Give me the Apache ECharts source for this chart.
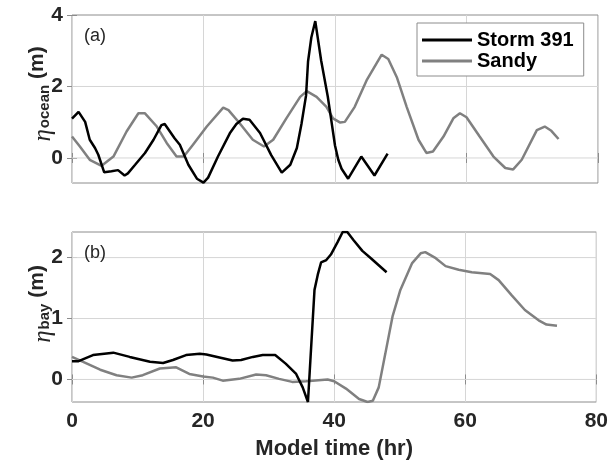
<!DOCTYPE html>
<html>
<head>
<meta charset="utf-8">
<script src="https://cdn.jsdelivr.net/npm/echarts@6/dist/echarts.min.js"></script>
<style>
  html, body { margin: 0; padding: 0; background: #fff; }
  #chart { width: 611px; height: 466px; }
</style>
</head>
<body>
<div id="chart"></div>
<script>
// Storm 391 ocean water level, model hour vs metres
const storm391OceanHours = [0, 1, 2, 2.7, 3.5, 4, 4.9, 6, 7, 8, 8.5, 9.6, 11.1, 12.4, 13.6, 14.1, 15.6, 16.4, 17.7, 19, 20, 20.7, 22.2, 24, 25, 26, 27, 28.6, 30.3, 31.9, 33.2, 34.2, 34.9, 35.6, 35.9, 36.4, 37, 37.9, 38.9, 39.4, 40, 40.5, 41, 42, 44, 46, 48];
const storm391Ocean      = [1.10, 1.29, 1.01, 0.51, 0.28, 0.09, -0.40, -0.37, -0.34, -0.49, -0.43, -0.19, 0.14, 0.51, 0.92, 0.95, 0.55, 0.37, -0.19, -0.58, -0.69, -0.55, 0.04, 0.69, 0.95, 1.10, 1.07, 0.70, 0.08, -0.41, -0.19, 0.28, 0.95, 1.75, 2.70, 3.37, 3.83, 2.72, 1.72, 1.10, 0.35, -0.05, -0.30, -0.58, 0.04, -0.49, 0.12];

// Sandy ocean water level
const sandyOceanHours = [0, 1.2, 2.7, 4.5, 6.3, 8.3, 10.1, 11.1, 12.9, 14.4, 15.9, 17, 18.4, 20.5, 23, 23.8, 25.5, 27.5, 29.2, 30.6, 32.6, 34.7, 35.7, 37.2, 38.7, 39.7, 40.8, 41.5, 43, 44.8, 47.1, 48.1, 49.4, 50.9, 52.7, 53.9, 54.9, 56.5, 58, 59, 60, 62, 64.1, 65.9, 67.1, 68.4, 70.7, 71.9, 72.9, 74];
const sandyOcean      = [0.60, 0.32, -0.05, -0.22, 0.04, 0.74, 1.25, 1.25, 0.88, 0.42, 0.04, 0.04, 0.37, 0.88, 1.41, 1.34, 0.97, 0.51, 0.32, 0.51, 1.11, 1.71, 1.87, 1.71, 1.43, 1.11, 0.99, 1.01, 1.43, 2.17, 2.89, 2.77, 2.26, 1.43, 0.51, 0.14, 0.18, 0.60, 1.11, 1.25, 1.14, 0.60, 0.04, -0.28, -0.32, -0.05, 0.78, 0.88, 0.76, 0.53];

// Storm 391 bay water level
const storm391BayHours = [0, 1, 3.2, 6.3, 8.8, 11.9, 13.9, 15.4, 17.4, 19.5, 20.5, 22.5, 24.5, 25.8, 27.6, 29.1, 31, 32.6, 34.2, 35.2, 36, 37, 37.5, 38, 38.8, 39.5, 40.5, 41.3, 42, 43, 44.3, 45.6, 48];
const storm391Bay      = [0.30, 0.30, 0.40, 0.44, 0.37, 0.29, 0.27, 0.32, 0.40, 0.42, 0.41, 0.36, 0.31, 0.32, 0.37, 0.40, 0.40, 0.26, 0.09, -0.13, -0.37, 1.47, 1.72, 1.92, 1.96, 2.05, 2.25, 2.42, 2.42, 2.28, 2.11, 1.99, 1.76];

// Sandy bay water level
const sandyBayHours = [0, 1.7, 4.3, 6.8, 9.1, 10.8, 13.4, 15.9, 17.9, 20, 21.5, 23, 25.5, 28.1, 29.6, 31.6, 33.6, 35.7, 36.7, 39, 40, 41.8, 43.8, 45.1, 45.9, 46.8, 47.8, 48.9, 50.1, 51.9, 53.2, 53.9, 55.5, 57, 59, 61, 63.8, 65.1, 67.1, 69.1, 71.2, 72.4, 74];
const sandyBay      = [0.37, 0.29, 0.16, 0.07, 0.03, 0.07, 0.18, 0.20, 0.09, 0.05, 0.03, -0.02, 0.01, 0.08, 0.07, 0.01, -0.04, -0.03, -0.02, 0.00, -0.03, -0.15, -0.32, -0.37, -0.35, -0.13, 0.42, 1.03, 1.47, 1.91, 2.07, 2.09, 1.99, 1.86, 1.80, 1.76, 1.73, 1.63, 1.38, 1.14, 0.97, 0.90, 0.88];

// Axis ranges and tick values
const timeRange = [0, 80];
const timeStep = 20;
const oceanRange = [-0.7, 4];
const oceanTicks = [0, 2, 4];
const bayRange = [-0.37, 2.42];
const bayTicks = [0, 1, 2];

const seriesNames = ['Storm 391', 'Sandy'];
const panelTags = ['(a)', '(b)'];

const pair = (xs, ys) => xs.map((x, i) => [x, ys[i]]);

const SANS = '"Liberation Sans", Arial, Helvetica, sans-serif';
const INK = '#262626';
const FRAME = '#8c8c8c';
const GRIDLINE = '#d6d6d6';

const grids = [
  { left: 72, top: 15, width: 526, height: 168 },
  { left: 72, top: 232, width: 526, height: 170 }
].map(g => Object.assign({ show: true, borderColor: FRAME, borderWidth: 1 }, g));

const labelStyle = { color: INK, fontFamily: SANS, fontWeight: 'bold', fontSize: 21 };
const tickLine = { color: FRAME, width: 1 };

function timeAxis(gridIndex, position, withLabels, withGrid) {
  return {
    type: 'value', gridIndex, position,
    min: timeRange[0], max: timeRange[1], interval: timeStep,
    axisLine: { show: false },
    axisTick: { show: true, inside: true, length: 5, lineStyle: tickLine },
    splitLine: { show: withGrid, lineStyle: { color: GRIDLINE, width: 1 } },
    axisLabel: Object.assign({ show: withLabels, margin: 9 }, labelStyle),
    name: withLabels ? 'Model time (hr)' : '',
    nameLocation: 'middle', nameGap: 36,
    nameTextStyle: { color: INK, fontFamily: SANS, fontWeight: 'bold', fontSize: 22 }
  };
}

// The level axes start at a non-round minimum, so ticks and labels are listed explicitly
function levelAxis(gridIndex, position, range, values, withLabels) {
  return {
    type: 'value', gridIndex, position,
    min: range[0], max: range[1],
    axisLine: { show: false },
    axisTick: { show: true, inside: true, length: 5, customValues: values, lineStyle: tickLine },
    splitLine: { show: false },
    axisLabel: Object.assign({ show: withLabels, margin: 9, customValues: values }, labelStyle)
  };
}

function lineSeries(name, data, xi, yi, color) {
  return {
    name, type: 'line', xAxisIndex: xi, yAxisIndex: yi, data,
    showSymbol: false, symbol: 'none', animation: false,
    lineStyle: { color, width: 2.5 }, itemStyle: { color },
    z: name === seriesNames[0] ? 4 : 3
  };
}

// Horizontal grid lines: one flat line across the time range at each interior level tick
function levelGridSeries(xi, yi, ticks, range) {
  return ticks.filter(v => v > range[0] && v < range[1]).map(v => ({
    type: 'line', xAxisIndex: xi, yAxisIndex: yi,
    data: timeRange.map(t => [t, v]),
    showSymbol: false, symbol: 'none', silent: true, animation: false, z: 1,
    lineStyle: { color: GRIDLINE, width: 1 },
    emphasis: { disabled: true }, tooltip: { show: false }
  }));
}

// Rotated y-axis title: eta with a subscript, then the unit
const measure = document.createElement('canvas').getContext('2d');
function textWidth(font, s) { measure.font = font; return measure.measureText(s).width; }

function yTitle(cx, cy, sub) {
  const fEta = 'italic 25px "Liberation Serif", "DejaVu Serif", serif';
  const fSub = 'bold 15px ' + SANS;
  const fUnit = 'bold 21px ' + SANS;
  const wEta = textWidth(fEta, 'η');
  const wSub = textWidth(fSub, sub);
  const wUnit = textWidth(fUnit, ' (m)');
  const total = wEta + 1 + wSub + wUnit;
  const x0 = -total / 2;
  return {
    type: 'group', x: cx, y: cy, rotation: Math.PI / 2, silent: true,
    children: [
      { type: 'text', x: x0, y: 0, style: { text: 'η', font: fEta, fill: INK, textBaseline: 'alphabetic', align: 'left' } },
      { type: 'text', x: x0 + wEta + 1, y: 6, style: { text: sub, font: fSub, fill: INK, textBaseline: 'alphabetic', align: 'left' } },
      { type: 'text', x: x0 + wEta + 1 + wSub, y: -4, style: { text: ' (m)', font: fUnit, fill: INK, textBaseline: 'alphabetic', align: 'left' } }
    ]
  };
}

const chart = echarts.init(document.getElementById('chart'), null, { renderer: 'canvas' });
chart.setOption({
  animation: false,
  backgroundColor: '#fff',
  grid: grids,
  xAxis: [
    timeAxis(0, 'bottom', false, true),
    timeAxis(0, 'top', false, false),
    timeAxis(1, 'bottom', true, true),
    timeAxis(1, 'top', false, false)
  ],
  yAxis: [
    levelAxis(0, 'left', oceanRange, oceanTicks, true),
    levelAxis(0, 'right', oceanRange, oceanTicks, false),
    levelAxis(1, 'left', bayRange, bayTicks, true),
    levelAxis(1, 'right', bayRange, bayTicks, false)
  ],
  legend: {
    data: seriesNames,
    orient: 'vertical', left: 417, top: 23,
    icon: 'rect', itemWidth: 50, itemHeight: 3, itemGap: 1, itemTextGap: 6,
    padding: [7, 10, 5, 5],
    borderColor: FRAME, borderWidth: 1, backgroundColor: '#fff',
    textStyle: { color: '#000', fontFamily: SANS, fontWeight: 'bold', fontSize: 20 },
    selectedMode: false
  },
  series: [
    ...levelGridSeries(0, 0, oceanTicks, oceanRange),
    ...levelGridSeries(2, 2, bayTicks, bayRange),
    lineSeries(seriesNames[0], pair(storm391OceanHours, storm391Ocean), 0, 0, '#000000'),
    lineSeries(seriesNames[1], pair(sandyOceanHours, sandyOcean), 0, 0, '#808080'),
    lineSeries(seriesNames[0], pair(storm391BayHours, storm391Bay), 2, 2, '#000000'),
    lineSeries(seriesNames[1], pair(sandyBayHours, sandyBay), 2, 2, '#808080')
  ],
  graphic: [
    { type: 'text', left: 84, top: 27, silent: true, z: 5, style: { text: panelTags[0], font: '18px ' + SANS, fill: INK } },
    { type: 'text', left: 84, top: 244, silent: true, z: 5, style: { text: panelTags[1], font: '18px ' + SANS, fill: INK } },
    yTitle(31, 94, 'ocean'),
    yTitle(31, 304, 'bay')
  ]
});
</script>
</body>
</html>
